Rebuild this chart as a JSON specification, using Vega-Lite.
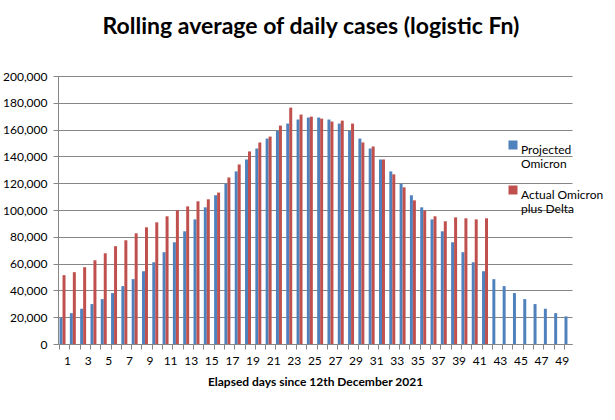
{
  "$schema": "https://vega.github.io/schema/vega-lite/v6.json",
  "width": 514,
  "height": 268,
  "autosize": {"type": "none"},
  "padding": {"left": 58, "top": 76, "right": 43, "bottom": 76},
  "background": "white",
  "title": {
    "text": "Rolling average of daily cases (logistic Fn)",
    "font": "Lato",
    "fontSize": 23,
    "fontWeight": "bold",
    "color": "black",
    "anchor": "middle",
    "offset": 31,
    "dx": -4
  },
  "data": {
    "values": [
      {"day": 1, "series": "Projected Omicron", "cases": 19500},
      {"day": 2, "series": "Projected Omicron", "cases": 23000},
      {"day": 3, "series": "Projected Omicron", "cases": 26300},
      {"day": 4, "series": "Projected Omicron", "cases": 29800},
      {"day": 5, "series": "Projected Omicron", "cases": 33500},
      {"day": 6, "series": "Projected Omicron", "cases": 38000},
      {"day": 7, "series": "Projected Omicron", "cases": 43200},
      {"day": 8, "series": "Projected Omicron", "cases": 48400},
      {"day": 9, "series": "Projected Omicron", "cases": 54300},
      {"day": 10, "series": "Projected Omicron", "cases": 61000},
      {"day": 11, "series": "Projected Omicron", "cases": 68500},
      {"day": 12, "series": "Projected Omicron", "cases": 75900},
      {"day": 13, "series": "Projected Omicron", "cases": 84100},
      {"day": 14, "series": "Projected Omicron", "cases": 93000},
      {"day": 15, "series": "Projected Omicron", "cases": 102000},
      {"day": 16, "series": "Projected Omicron", "cases": 111000},
      {"day": 17, "series": "Projected Omicron", "cases": 119600},
      {"day": 18, "series": "Projected Omicron", "cases": 128800},
      {"day": 19, "series": "Projected Omicron", "cases": 137700},
      {"day": 20, "series": "Projected Omicron", "cases": 145900},
      {"day": 21, "series": "Projected Omicron", "cases": 153300},
      {"day": 22, "series": "Projected Omicron", "cases": 159000},
      {"day": 23, "series": "Projected Omicron", "cases": 164500},
      {"day": 24, "series": "Projected Omicron", "cases": 167500},
      {"day": 25, "series": "Projected Omicron", "cases": 169000},
      {"day": 26, "series": "Projected Omicron", "cases": 169000},
      {"day": 27, "series": "Projected Omicron", "cases": 167500},
      {"day": 28, "series": "Projected Omicron", "cases": 164500},
      {"day": 29, "series": "Projected Omicron", "cases": 159000},
      {"day": 30, "series": "Projected Omicron", "cases": 153300},
      {"day": 31, "series": "Projected Omicron", "cases": 145900},
      {"day": 32, "series": "Projected Omicron", "cases": 137700},
      {"day": 33, "series": "Projected Omicron", "cases": 128800},
      {"day": 34, "series": "Projected Omicron", "cases": 119600},
      {"day": 35, "series": "Projected Omicron", "cases": 111000},
      {"day": 36, "series": "Projected Omicron", "cases": 102000},
      {"day": 37, "series": "Projected Omicron", "cases": 93000},
      {"day": 38, "series": "Projected Omicron", "cases": 84100},
      {"day": 39, "series": "Projected Omicron", "cases": 75900},
      {"day": 40, "series": "Projected Omicron", "cases": 68500},
      {"day": 41, "series": "Projected Omicron", "cases": 61000},
      {"day": 42, "series": "Projected Omicron", "cases": 54300},
      {"day": 43, "series": "Projected Omicron", "cases": 48400},
      {"day": 44, "series": "Projected Omicron", "cases": 43200},
      {"day": 45, "series": "Projected Omicron", "cases": 38000},
      {"day": 46, "series": "Projected Omicron", "cases": 33500},
      {"day": 47, "series": "Projected Omicron", "cases": 29800},
      {"day": 48, "series": "Projected Omicron", "cases": 26300},
      {"day": 49, "series": "Projected Omicron", "cases": 23000},
      {"day": 50, "series": "Projected Omicron", "cases": 20600},
      {"day": 1, "series": "Actual Omicron plus Delta", "cases": 51400},
      {"day": 2, "series": "Actual Omicron plus Delta", "cases": 53600},
      {"day": 3, "series": "Actual Omicron plus Delta", "cases": 57300},
      {"day": 4, "series": "Actual Omicron plus Delta", "cases": 62500},
      {"day": 5, "series": "Actual Omicron plus Delta", "cases": 67700},
      {"day": 6, "series": "Actual Omicron plus Delta", "cases": 73000},
      {"day": 7, "series": "Actual Omicron plus Delta", "cases": 77400},
      {"day": 8, "series": "Actual Omicron plus Delta", "cases": 82600},
      {"day": 9, "series": "Actual Omicron plus Delta", "cases": 87100},
      {"day": 10, "series": "Actual Omicron plus Delta", "cases": 90800},
      {"day": 11, "series": "Actual Omicron plus Delta", "cases": 95300},
      {"day": 12, "series": "Actual Omicron plus Delta", "cases": 99800},
      {"day": 13, "series": "Actual Omicron plus Delta", "cases": 102700},
      {"day": 14, "series": "Actual Omicron plus Delta", "cases": 106500},
      {"day": 15, "series": "Actual Omicron plus Delta", "cases": 108000},
      {"day": 16, "series": "Actual Omicron plus Delta", "cases": 113000},
      {"day": 17, "series": "Actual Omicron plus Delta", "cases": 124300},
      {"day": 18, "series": "Actual Omicron plus Delta", "cases": 134000},
      {"day": 19, "series": "Actual Omicron plus Delta", "cases": 143700},
      {"day": 20, "series": "Actual Omicron plus Delta", "cases": 150400},
      {"day": 21, "series": "Actual Omicron plus Delta", "cases": 154800},
      {"day": 22, "series": "Actual Omicron plus Delta", "cases": 163000},
      {"day": 23, "series": "Actual Omicron plus Delta", "cases": 176400},
      {"day": 24, "series": "Actual Omicron plus Delta", "cases": 171200},
      {"day": 25, "series": "Actual Omicron plus Delta", "cases": 169700},
      {"day": 26, "series": "Actual Omicron plus Delta", "cases": 168200},
      {"day": 27, "series": "Actual Omicron plus Delta", "cases": 166000},
      {"day": 28, "series": "Actual Omicron plus Delta", "cases": 166700},
      {"day": 29, "series": "Actual Omicron plus Delta", "cases": 164500},
      {"day": 30, "series": "Actual Omicron plus Delta", "cases": 150400},
      {"day": 31, "series": "Actual Omicron plus Delta", "cases": 147400},
      {"day": 32, "series": "Actual Omicron plus Delta", "cases": 137700},
      {"day": 33, "series": "Actual Omicron plus Delta", "cases": 126600},
      {"day": 34, "series": "Actual Omicron plus Delta", "cases": 116900},
      {"day": 35, "series": "Actual Omicron plus Delta", "cases": 107200},
      {"day": 36, "series": "Actual Omicron plus Delta", "cases": 99500},
      {"day": 37, "series": "Actual Omicron plus Delta", "cases": 95300},
      {"day": 38, "series": "Actual Omicron plus Delta", "cases": 91600},
      {"day": 39, "series": "Actual Omicron plus Delta", "cases": 94500},
      {"day": 40, "series": "Actual Omicron plus Delta", "cases": 93800},
      {"day": 41, "series": "Actual Omicron plus Delta", "cases": 93000},
      {"day": 42, "series": "Actual Omicron plus Delta", "cases": 93800}
    ]
  },
  "mark": {"type": "bar"},
  "encoding": {
    "x": {
      "field": "day",
      "type": "ordinal",
      "sort": "ascending",
      "scale": {"paddingInner": 0.42, "paddingOuter": 0.15},
      "axis": {
        "title": "Elapsed days since 12th December 2021",
        "titleFont": "Lato",
        "titleFontSize": 12,
        "titleFontWeight": "bold",
        "titleColor": "black",
        "titlePadding": 10,
        "labelAngle": 0,
        "labelFont": "Lato",
        "labelFontSize": 12,
        "labelColor": "black",
        "labelPadding": 6,
        "labelExpr": "datum.value % 2 == 1 ? datum.label : ''",
        "labelOffset": 5,
        "bandPosition": 0,
        "domainColor": "#868686",
        "tickColor": "#868686",
        "tickSize": 5,
        "grid": false
      }
    },
    "xOffset": {
      "field": "series",
      "type": "nominal",
      "sort": ["Projected Omicron", "Actual Omicron plus Delta"],
      "scale": {"paddingInner": 0, "paddingOuter": 0}
    },
    "y": {
      "field": "cases",
      "type": "quantitative",
      "scale": {"domain": [0, 200000], "nice": false},
      "axis": {
        "title": null,
        "values": [0, 20000, 40000, 60000, 80000, 100000, 120000, 140000, 160000, 180000, 200000],
        "format": ",d",
        "labelFont": "Lato",
        "labelFontSize": 12,
        "labelColor": "black",
        "labelPadding": 6,
        "domainColor": "#868686",
        "tickColor": "#868686",
        "tickSize": 5,
        "gridColor": "#868686",
        "gridWidth": 1
      }
    },
    "color": {
      "field": "series",
      "type": "nominal",
      "sort": ["Projected Omicron", "Actual Omicron plus Delta"],
      "scale": {"domain": ["Projected Omicron", "Actual Omicron plus Delta"], "range": ["#4F81BD", "#C0504D"]},
      "legend": {
        "title": null,
        "orient": "none",
        "legendX": 449,
        "legendY": 63,
        "symbolType": "square",
        "symbolSize": 81,
        "symbolStrokeWidth": 0,
        "symbolOpacity": 1,
        "labelFont": "Lato",
        "labelFontSize": 12,
        "labelColor": "black",
        "labelBaseline": "top",
        "labelOffset": 2,
        "labelLimit": 200,
        "rowPadding": 14,
        "labelExpr": "datum.label == 'Projected Omicron' ? ['Projected', 'Omicron'] : ['Actual Omicron', 'plus Delta']"
      }
    }
  },
  "config": {
    "view": {"stroke": null},
    "bar": {"binSpacing": 0}
  }
}
